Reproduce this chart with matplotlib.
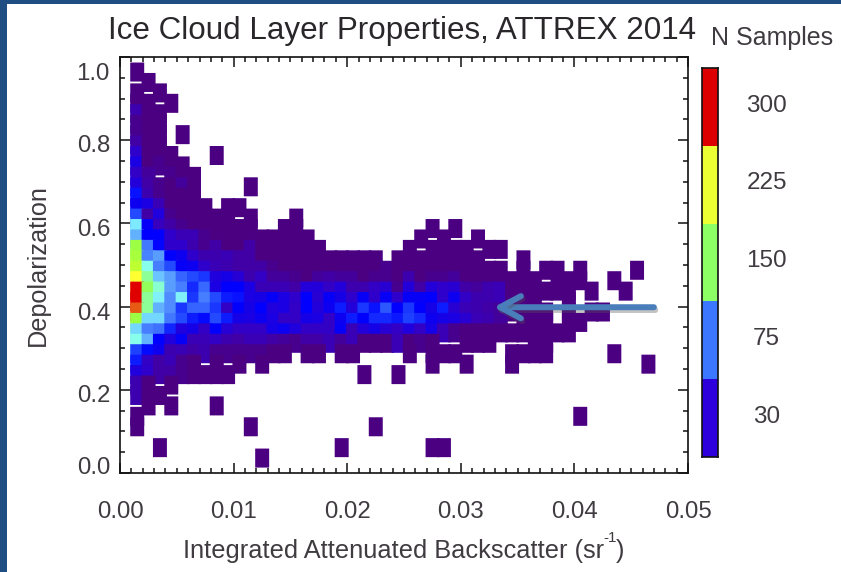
import numpy as np
import matplotlib
matplotlib.use("Agg")
import matplotlib.pyplot as plt
import matplotlib.patheffects as pe
from matplotlib.colors import LinearSegmentedColormap
from matplotlib.patches import Rectangle

plt.rcParams['font.family'] = ['Liberation Sans', 'DejaVu Sans']

# N samples per bin, first row is the highest depolarization, 0 = empty bin
n_samples = [
    [1],
    [0, 1],
    [1, 0, 1],
    [2, 1, 0, 1],
    [6, 1, 1],
    [3, 2, 1],
    [3, 2, 1, 0, 1],
    [5, 1, 1],
    [12, 1, 2, 1, 0, 0, 0, 1],
    [20, 2, 3, 2, 1],
    [10, 4, 0, 3, 2, 1],
    [16, 5, 3, 2, 4, 1, 0, 0, 0, 0, 1],
    [35, 6, 3, 2, 2, 1],
    [25, 20, 8, 2, 2, 1, 1, 0, 1, 1],
    [50, 5, 18, 3, 2, 2, 1, 1, 1, 0, 1, 0, 0, 0, 1],
    [100, 28, 9, 5, 3, 2, 2, 1, 1, 1, 1, 0, 0, 1, 1, 0, 0, 0, 0, 0, 0, 0, 0, 0, 0, 0, 1, 0, 1],
    [85, 30, 30, 12, 8, 8, 3, 2, 2, 1, 1, 1, 1, 1, 1, 1, 0, 0, 0, 0, 0, 0, 0, 0, 0, 1, 0, 1, 0, 0, 1],
    [155, 68, 32, 12, 12, 6, 3, 5, 1, 2, 5, 1, 1, 1, 1, 1, 1, 0, 0, 0, 0, 0, 0, 0, 1, 0, 1, 1, 1, 1, 0, 1, 1],
    [165, 72, 80, 30, 25, 12, 6, 6, 8, 5, 5, 2, 2, 2, 1, 1, 1, 1, 1, 1, 1, 1, 0, 1, 1, 1, 1, 1, 1, 1, 1, 0, 0, 0, 1],
    [185, 115, 70, 50, 28, 25, 12, 8, 6, 5, 5, 5, 3, 1, 2, 2, 2, 2, 2, 2, 2, 2, 3, 1, 1, 2, 1, 1, 1, 1, 1, 1, 1, 0, 1, 0, 1, 1, 0, 1, 0, 0, 0, 0, 1],
    [225, 130, 90, 80, 60, 50, 45, 18, 22, 15, 6, 10, 4, 4, 3, 2, 4, 5, 4, 4, 2, 3, 3, 1, 6, 2, 3, 3, 4, 2, 2, 1, 1, 1, 1, 1, 0, 1, 1, 1, 0, 0, 1],
    [300, 145, 120, 80, 70, 42, 62, 20, 30, 30, 20, 8, 8, 8, 5, 16, 16, 10, 16, 6, 6, 10, 14, 3, 16, 5, 16, 12, 14, 5, 4, 6, 8, 2, 1, 1, 1, 1, 1, 0, 1, 0, 0, 1],
    [310, 130, 105, 75, 105, 45, 70, 50, 38, 35, 20, 22, 28, 20, 12, 30, 14, 28, 22, 12, 28, 12, 28, 12, 28, 28, 30, 12, 25, 10, 6, 6, 8, 2, 1, 1, 0, 0, 1],
    [265, 130, 85, 75, 45, 60, 60, 45, 10, 30, 22, 30, 18, 20, 10, 30, 16, 25, 38, 16, 45, 35, 55, 30, 45, 30, 22, 38, 14, 8, 6, 5, 4, 2, 1, 1, 1, 0, 1, 0, 1, 1],
    [155, 95, 95, 68, 50, 38, 33, 50, 38, 22, 20, 25, 20, 10, 10, 22, 20, 10, 25, 38, 30, 42, 42, 36, 48, 42, 25, 22, 20, 14, 8, 6, 4, 0, 2, 1, 1, 0, 1, 1],
    [95, 70, 65, 40, 18, 22, 10, 30, 15, 10, 10, 10, 22, 25, 18, 10, 10, 10, 28, 8, 16, 22, 14, 10, 18, 10, 22, 8, 3, 2, 2, 2, 2, 1, 1, 1, 1, 1, 1],
    [115, 85, 30, 18, 28, 8, 8, 10, 6, 5, 8, 8, 5, 4, 3, 5, 5, 8, 4, 8, 2, 2, 2, 8, 2, 3, 2, 0, 0, 1, 1, 1, 0, 0, 0, 1, 1],
    [48, 33, 25, 6, 8, 5, 6, 3, 3, 3, 3, 3, 2, 2, 0, 1, 1, 0, 2, 1, 0, 0, 0, 0, 1, 0, 1, 1, 1, 0, 0, 0, 0, 1, 1, 1, 1, 0, 0, 0, 0, 0, 1],
    [38, 10, 5, 8, 3, 2, 0, 2, 0, 2, 0, 1, 0, 0, 0, 0, 0, 0, 0, 0, 0, 0, 0, 0, 0, 0, 1, 0, 0, 1, 0, 0, 0, 1, 0, 0, 0, 0, 0, 0, 0, 0, 0, 0, 0, 1],
    [18, 12, 5, 5, 3, 2, 2, 2, 1, 0, 0, 0, 0, 0, 0, 0, 0, 0, 0, 0, 1, 0, 0, 1],
    [6, 2, 0, 2],
    [6, 2, 2],
    [0, 1, 0, 1, 0, 0, 0, 1],
    [2, 0, 0, 0, 0, 0, 0, 0, 0, 0, 0, 0, 0, 0, 0, 0, 0, 0, 0, 0, 0, 0, 0, 0, 0, 0, 0, 0, 0, 0, 0, 0, 0, 0, 0, 0, 0, 0, 0, 1],
    [2, 0, 0, 0, 0, 0, 0, 0, 0, 0, 1, 0, 0, 0, 0, 0, 0, 0, 0, 0, 0, 1],
    [],
    [0, 0, 1, 0, 0, 0, 0, 0, 0, 0, 0, 0, 0, 0, 0, 0, 0, 0, 1, 0, 0, 0, 0, 0, 0, 0, 1, 1],
    [0, 0, 0, 0, 0, 0, 0, 0, 0, 0, 0, 1],
]

title = 'Ice Cloud Layer Properties, ATTREX 2014'
x_label = 'Integrated Attenuated Backscatter (sr'
y_label = 'Depolarization'
cbar_title = 'N Samples'
cbar_labels = ['30', '75', '150', '225', '300']
cbar_colors = ['#2d00dc', '#3c78ff', '#8cff64', '#ebff32', '#dc0000']
y_ticks = [0.0, 0.2, 0.4, 0.6, 0.8, 1.0]
y_tick_labels = ['0.0', '0.2', '0.4', '0.6', '0.8', '1.0']

W, H = 841, 572
TEXT = '#3f3b40'

# colour ramp of the cells, count -> colour
ramp_counts = [1, 2, 5, 10, 30, 50, 75, 100, 115, 130, 150, 185, 225, 265, 300, 320]
ramp_colors = ['#4b0082', '#48008c', '#3f00a8', '#3200c8', '#0000ff', '#234bff', '#508cff', '#7debff', '#87ffeb',
               '#8cff96', '#96ff46', '#beff32', '#ffff32', '#e65a14', '#e10000', '#dc0000']
cmap = LinearSegmentedColormap.from_list(
    'attrex', [((c - 1) / 319, col) for c, col in zip(ramp_counts, ramp_colors)])

fig = plt.figure(figsize=(W / 100, H / 100), dpi=100, facecolor='white')

# dark frame of the slide
fig.add_artist(Rectangle((0, 1 - 4 / H), 1, 4 / H, transform=fig.transFigure, color='#1f4e82', lw=0))
fig.add_artist(Rectangle((0, 0), 7 / W, 1, transform=fig.transFigure, color='#1f4e82', lw=0))

ax = fig.add_axes([120 / W, 1 - 473 / H, 568 / W, 416 / H])

# Cells are wider and taller than the bin spacing and overlap the next ones,
# so draw from the top row down, left to right
xs, ys, cs = [], [], []
for j, row in enumerate(n_samples):
    for k, n in enumerate(row):
        if n > 0:
            xs.append(0.0009 + 0.001 * k)
            ys.append(0.9867 - 0.02508 * j)
            cs.append(cmap((n - 1) / 319))
ys = np.array(ys)
bars = ax.bar(xs, 0.0457, width=0.00123, bottom=ys - 0.0457, align='edge', color=cs, linewidth=0)
for b in bars:
    b.set_snap(False)

ax.set_xlim(0, 0.05)
ax.set_ylim(0, 1)
ax.set_xticks(np.arange(0, 0.051, 0.01))
ax.set_xticklabels(['0.00', '0.01', '0.02', '0.03', '0.04', '0.05'])
ax.set_xticks(np.arange(0, 0.0501, 0.001), minor=True)
ax.set_yticks(y_ticks)
ax.set_yticklabels([])
ax.set_yticks(np.arange(0, 1.001, 0.05), minor=True)
ax.tick_params(which='both', direction='in', top=True, right=True, colors='#111111', labelcolor=TEXT)
ax.tick_params(which='major', length=7.2, width=1.1, labelsize=17.3)
ax.tick_params(which='minor', length=3.6, width=1.1)
ax.tick_params(axis='x', which='major', pad=20)
for s in ax.spines.values():
    s.set_linewidth(1.2)
    s.set_color('#111111')

# the y labels of the original sit off their ticks at both ends, offsets in points
y_label_shift = [3.6, -4.4, -5.1, -4.4, -4.4, -12.3]
for v, lab, dy in zip(y_ticks, y_tick_labels, y_label_shift):
    ax.annotate(lab, xy=(0, v), xytext=(-7.2, dy), textcoords='offset points',
                ha='right', va='center', fontsize=17.3, color=TEXT)

# x label ends in a small raised -1 and a closing bracket
fig.text(183 / W, 1 - 551 / H, x_label, fontsize=18.3, color=TEXT, ha='left', va='center')
fig.text(603 / W, 1 - 538 / H, '-1', fontsize=11, color=TEXT, ha='left', va='center')
fig.text(616 / W, 1 - 551 / H, ')', fontsize=18.3, color=TEXT, ha='left', va='center')
ax.set_ylabel(y_label, fontsize=18.2, color=TEXT, va='center')
ax.yaxis.set_label_coords(-82 / 568, 0.5)
fig.text(402 / W, 1 - 31 / H, title, fontsize=22.6, color='#2a272b', ha='center', va='center')
fig.text(772 / W, 1 - 38 / H, cbar_title, fontsize=18, color=TEXT, ha='center', va='center')

# arrow pointing at the cirrus branch
ax.annotate('', xy=(0.0329, 0.3985), xytext=(0.0470, 0.3985),
            arrowprops=dict(arrowstyle='->,head_length=1.5,head_width=0.8', color='#4a7ebb', lw=4.3,
                            shrinkA=0, shrinkB=0,
                            path_effects=[pe.SimpleLineShadow(offset=(1.0, -2.0), shadow_color='#555555', alpha=0.35),
                                          pe.Normal()]))

# colour bar, five equal blocks
cax = fig.add_axes([702 / W, 1 - 457 / H, 16 / W, 389 / H])
levels = np.arange(len(cbar_labels))
cax.bar(0, 1, width=1, bottom=levels, align='edge', color=cbar_colors, linewidth=0)
cax.set_xlim(0, 1)
cax.set_ylim(0, len(cbar_labels))
cax.set_xticks([])
cax.yaxis.tick_right()
cax.set_yticks(levels + 0.55)
cax.set_yticklabels(cbar_labels, ha='center')
cax.tick_params(axis='y', length=0, pad=35, labelsize=17.5, labelcolor=TEXT)
for s in cax.spines.values():
    s.set_linewidth(1.2)
    s.set_color('#111111')

fig.savefig('out.png', dpi=100)
